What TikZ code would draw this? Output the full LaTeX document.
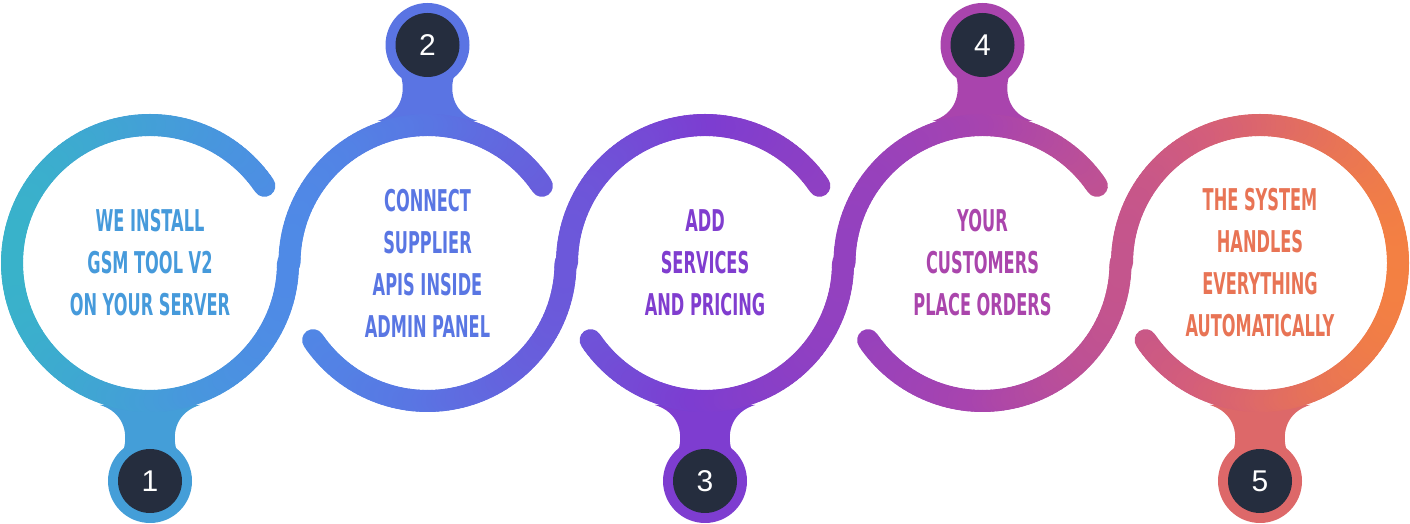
\documentclass[tikz,border=0pt]{standalone}
\usepackage{fontspec}
\newfontfamily\condf[FakeStretch=0.54]{DejaVu Sans Bold}
\newfontfamily\numf{Liberation Sans}
\definecolor{s0}{HTML}{38B4C9}
\definecolor{s1}{HTML}{4F8AE6}
\definecolor{s2}{HTML}{5A74E3}
\definecolor{s3}{HTML}{7D3DD1}
\definecolor{s4}{HTML}{A844AE}
\definecolor{s5}{HTML}{D45E7A}
\definecolor{s6}{HTML}{F5823F}
\definecolor{badge}{HTML}{252D3E}
\newcommand\setgc[1]{\pgfmathsetmacro\gx{#1}%
\ifdim\gx pt<290pt \pgfmathsetmacro\gp{(290-\gx)/290*100}\colorlet{gc}{s0!\gp!s1}%
\else\ifdim\gx pt<430pt \pgfmathsetmacro\gp{(430-\gx)/140*100}\colorlet{gc}{s1!\gp!s2}%
\else\ifdim\gx pt<700pt \pgfmathsetmacro\gp{(700-\gx)/270*100}\colorlet{gc}{s2!\gp!s3}%
\else\ifdim\gx pt<980pt \pgfmathsetmacro\gp{(980-\gx)/280*100}\colorlet{gc}{s3!\gp!s4}%
\else\ifdim\gx pt<1200pt \pgfmathsetmacro\gp{(1200-\gx)/220*100}\colorlet{gc}{s4!\gp!s5}%
\else \pgfmathsetmacro\gp{(1410-\gx)/210*100}\colorlet{gc}{s5!\gp!s6}%
\fi\fi\fi\fi\fi}
\newcommand\ringarc[3]{%
 \pgfmathtruncatemacro\anext{#2+2}\pgfmathtruncatemacro\aend{#3-2}%
 \foreach \a in {#2,\anext,...,\aend}{%
  \pgfmathsetmacro\gxx{#1+138*cos(\a+1)}\setgc{\gxx}%
  \draw[ring] ({#1+138*cos(\a)},{261+138*sin(\a)}) -- ({#1+138*cos(\a+2)},{261+138*sin(\a+2)});
 }}
% badge: #1 cx, #2 name, #3 number, #4 direction (1 = below, -1 = above)
\newcommand\badgeat[4]{%
 \setgc{#1}%
 \begin{scope}[shift={(#1,261)},yscale=#4]
  \fill[gc] (-50,-142) .. controls (-27,-149) and (-22,-169) .. (-26,-185) -- (26,-185) .. controls (22,-169) and (27,-149) .. (50,-142) -- cycle;
  \fill[gc] (0,-218) circle (42);
 \end{scope}
 \node[numbadge] (#2) at (#1,{261-218*#4}) {#3};
}
\tikzset{
 ring/.style={gc,line width=22pt,line cap=round},
 numbadge/.style={circle,fill=badge,minimum size=64pt,inner sep=0pt,text=white,font=\numf\fontsize{30}{30}\selectfont},
 steptext/.style={align=center,font=\condf\fontsize{30}{42}\selectfont}
}
\begin{document}
\begin{tikzpicture}[x=1pt,y=1pt]
\useasboundingbox (0,0) rectangle (1410,524);
\badgeat{150}{b1}{1}{1}
\badgeat{427.5}{b2}{2}{-1}
\badgeat{705}{b3}{3}{1}
\badgeat{982.5}{b4}{4}{-1}
\badgeat{1260}{b5}{5}{1}
\ringarc{150}{34}{360}
\ringarc{427.5}{34}{180}
\ringarc{427.5}{214}{360}
\ringarc{705}{34}{180}
\ringarc{705}{214}{360}
\ringarc{982.5}{34}{180}
\ringarc{982.5}{214}{360}
\ringarc{1260}{214}{540}
\setgc{180}\node[steptext,text=gc] (t1) at (150,261) {WE INSTALL\\GSM TOOL V2\\ON YOUR SERVER};
\setgc{420}\node[steptext,text=gc] (t2) at (427.5,261) {CONNECT\\SUPPLIER\\APIS INSIDE\\ADMIN PANEL};
\setgc{720}\node[steptext,text=gc] (t3) at (705,261) {ADD\\SERVICES\\AND PRICING};
\setgc{990}\node[steptext,text=gc] (t4) at (982.5,261) {YOUR\\CUSTOMERS\\PLACE ORDERS};
\setgc{1330}\node[steptext,text=gc] (t5) at (1260,261) {THE SYSTEM\\HANDLES\\EVERYTHING\\AUTOMATICALLY};
\end{tikzpicture}
\end{document}
